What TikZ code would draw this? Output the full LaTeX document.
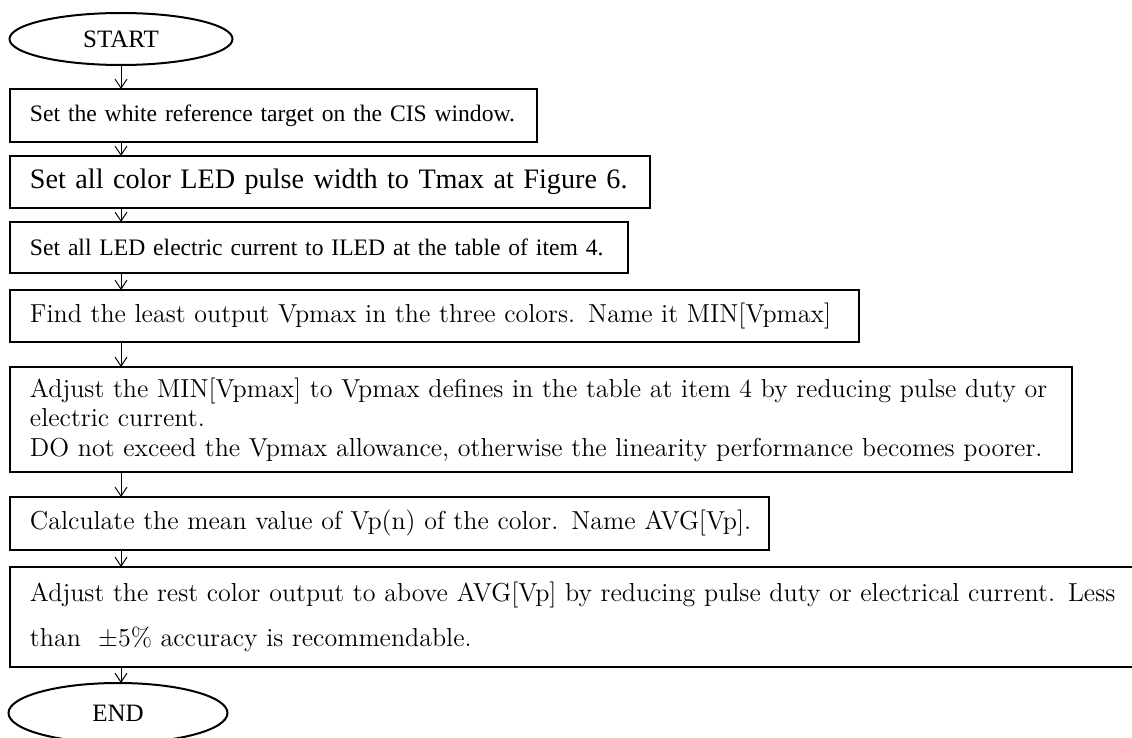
\documentclass[tikz,border=0pt]{standalone}
\usepackage{fontspec}
\newfontfamily\mincho{Liberation Serif}
\usetikzlibrary{shapes.geometric}
\usetikzlibrary{arrows.meta}
\tikzset{
	stepbox/.style={draw, line width=1pt, rectangle, anchor=north west, inner xsep=10pt, inner ysep=0pt, outer sep=0pt, align=left},
	terminal/.style={draw, line width=1pt, ellipse, inner sep=0pt, outer sep=0pt, font=\mincho\fontsize{12.5}{15}\selectfont},
	flow/.style={-{Straight Barb[length=4.5pt,width=6pt]}, line width=0.5pt}
}
\newcommand{\bodyfont}[1]{\fontsize{13}{#1}\selectfont}

\begin{document}
\begin{tikzpicture}[x=0.5pt,y=-0.5pt]
\useasboundingbox (0,0) rectangle (1132,738);

%Start and end
	\node[terminal, minimum width=111.5pt, minimum height=26pt] (start) at (121,39) {\raisebox{-2.2pt}{START}};
	\node[terminal, minimum width=109.5pt, minimum height=30pt] (end) at (118,713) {\raisebox{-4.2pt}{END}};

%Steps
	\node[stepbox, text width=243.5pt, minimum height=26.5pt, font=\mincho\fontsize{11.8}{14}\selectfont] (b1) at (10,89)
		{\mbox{Set the white reference target on the CIS window.}};
	\node[stepbox, text width=300pt, minimum height=26pt, font=\mincho\fontsize{14.1}{16}\selectfont] (b2) at (10,156)
		{\mbox{Set all color LED pulse width to Tmax at Figure 6.}};
	\node[stepbox, text width=289pt, minimum height=25.5pt, font=\mincho\fontsize{11.8}{14}\selectfont] (b3) at (10,222)
		{\mbox{Set all LED electric current to ILED at the table of item 4.}};
	\node[stepbox, text width=404.5pt, minimum height=26pt, font=\bodyfont{15}] (b4) at (10,290)
		{\mbox{Find the least output Vpmax in the three colors. Name it MIN[Vpmax]}};
	\node[stepbox, text width=511pt, minimum height=52.5pt, font=\bodyfont{14.75}] (b5) at (10,367)
		{\mbox{Adjust the MIN[Vpmax] to Vpmax defines in the table at item 4 by reducing pulse duty or}\\
		 electric current.\\
		 \mbox{DO not exceed the Vpmax allowance, otherwise the linearity performance becomes poorer.}};
	\node[stepbox, text width=359.5pt, minimum height=26.5pt, font=\bodyfont{15}] (b6) at (10,497)
		{\mbox{Calculate the mean value of Vp(n) of the color. Name AVG[Vp].}};
	\node[stepbox, text width=545pt, minimum height=50pt, font=\bodyfont{22.5}] (b7) at (10,567)
		{\mbox{Adjust the rest color output to above AVG[Vp] by reducing pulse duty or electrical current. Less}\\
		 than\ \ \textpm5\% accuracy is recommendable.};

%Connect steps
	\draw[flow] (start.south) -- (start.south |- b1.north);
	\foreach \a/\b in {b1/b2, b2/b3, b3/b4, b4/b5, b5/b6, b6/b7}
	{
		\draw[flow] (start.south |- \a.south) -- (start.south |- \b.north);
	}
	\draw[flow] (start.south |- b7.south) -- (start.south |- end.north);

\end{tikzpicture}
\end{document}
